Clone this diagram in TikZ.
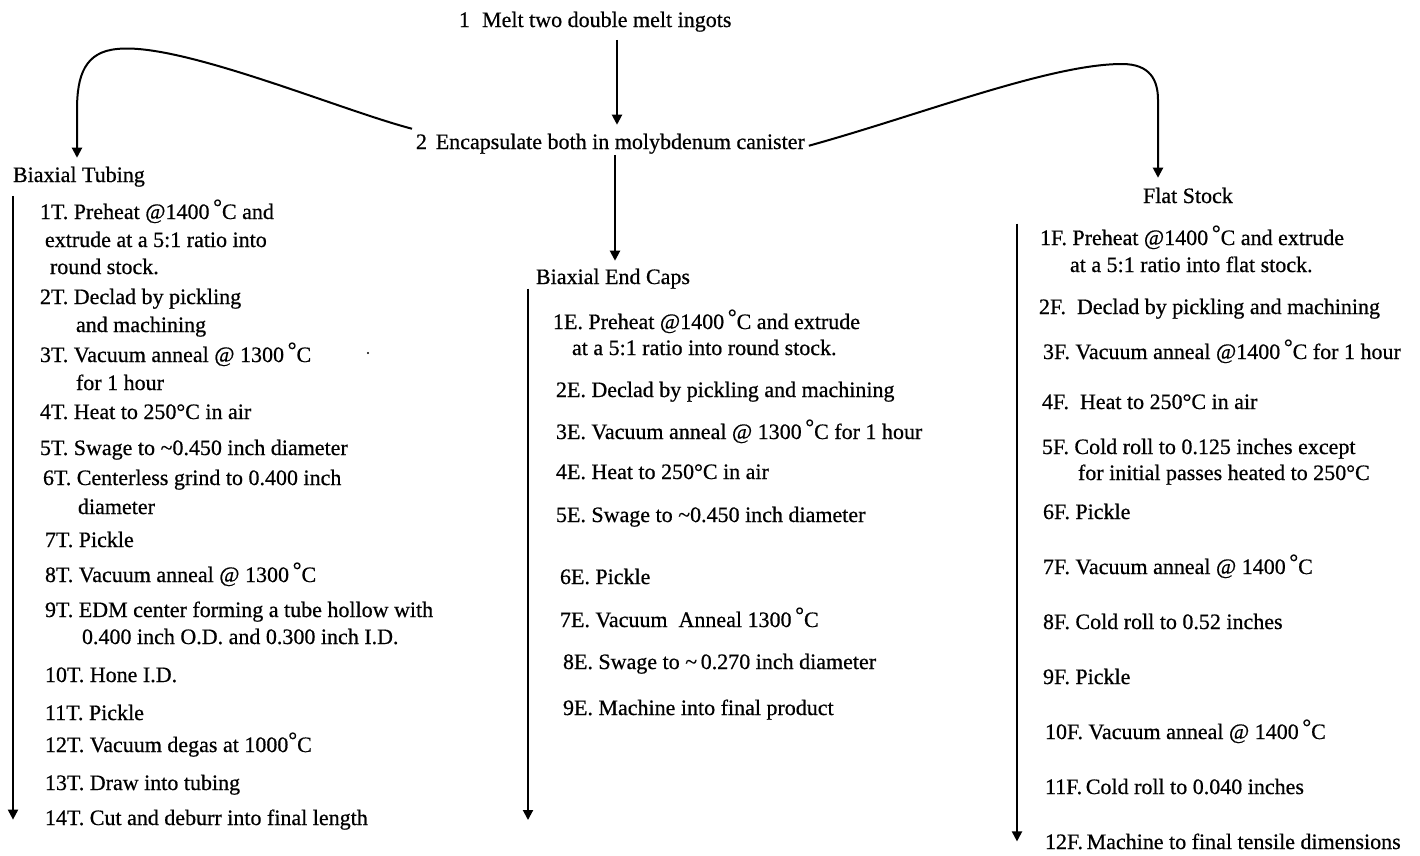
\documentclass[tikz,border=0pt]{standalone}
\usepackage{fontspec}
\setmainfont{Liberation Serif}[FakeBold=0.6]
\usetikzlibrary{arrows.meta}
\newcommand{\updeg}{\raisebox{0.22em}{°}}
\begin{document}
\begin{tikzpicture}[x=1pt,y=-1pt,
  txt/.style={anchor=base west,inner sep=0pt,outer sep=0pt,font=\fontsize{22}{27}\selectfont},
  conn/.style={line width=2pt,-{Triangle[length=10pt,width=10pt]}}
]
\useasboundingbox (0,0) rectangle (1420,855);
\fill[white] (0,0) rectangle (1420,855);

% x positions of the connectors
\coordinate (xA) at (617,0);
\coordinate (xB) at (615,0);
\coordinate (xL) at (77,0);
\coordinate (xR) at (1158,0);
\coordinate (xT) at (13,0);
\coordinate (xE) at (528,0);
\coordinate (xF) at (1017,0);
\coordinate (eEnd) at (528,820);

% top
\node[txt] (melt) at (459,27) {1\hspace{0.55em}Melt two double melt ingots};
\node[txt] (encap) at (416,149) {2\hspace{0.4em}Encapsulate both in molybdenum canister};

% headers
\node[txt] (tubH) at (13,182) {Biaxial Tubing};
\node[txt] (ecH) at (536,284) {Biaxial End Caps};
\node[txt] (flH) at (1143,203) {Flat Stock};

% Biaxial tubing column
\node[txt] (t1) at (40,219) {1T.\ Preheat @1400\,\updeg C and};
\node[txt] (t1b) at (45,247) {extrude at a 5:1 ratio into};
\node[txt] (t1c) at (50,274) {round stock.};
\node[txt] (t2) at (40,304) {2T.\ Declad by pickling};
\node[txt] (t2b) at (76,332) {and machining};
\node[txt] (t3) at (40,362) {3T.\ Vacuum anneal @ 1300\,\updeg C};
\node[txt] (t3b) at (76,390) {for 1 hour};
\node[txt] (t4) at (40,419) {4T.\ Heat to 250°C in air};
\node[txt] (t5) at (40,455) {5T.\ Swage to \textasciitilde0.450 inch diameter};
\node[txt] (t6) at (43,485) {6T.\ Centerless grind to 0.400 inch};
\node[txt] (t6b) at (78,514) {diameter};
\node[txt] (t7) at (45,547) {7T.\ Pickle};
\node[txt] (t8) at (45,582) {8T.\ Vacuum anneal @ 1300\,\updeg C};
\node[txt] (t9) at (45,617) {9T.\ EDM center forming a tube hollow with};
\node[txt] (t9b) at (82,644) {0.400 inch O.D. and 0.300 inch I.D.};
\node[txt] (t10) at (45,682) {10T.\ Hone I.D.};
\node[txt] (t11) at (45,720) {11T.\ Pickle};
\node[txt] (t12) at (45,752) {12T. Vacuum degas at 1000\updeg C};
\node[txt] (t13) at (45,790) {13T. Draw into tubing};
\node[txt] (t14) at (45,825) {14T. Cut and deburr into final length};
\fill (368,353) circle (1.2pt);

% Biaxial end caps column
\node[txt] (e1) at (553,329) {1E.\ Preheat @1400\,\updeg C and extrude};
\node[txt] (e1b) at (572,355) {at a 5:1 ratio into round stock.};
\node[txt] (e2) at (556,397) {2E.\ Declad by pickling and machining};
\node[txt] (e3) at (556,439) {3E.\ Vacuum anneal @ 1300\,\updeg C for 1 hour};
\node[txt] (e4) at (556,479) {4E.\ Heat to 250°C in air};
\node[txt] (e5) at (556,522) {5E.\ Swage to \textasciitilde0.450 inch diameter};
\node[txt] (e6) at (560,584) {6E.\ Pickle};
\node[txt] (e7) at (560,627) {7E. Vacuum\ \ Anneal 1300\,\updeg C};
\node[txt] (e8) at (563,669) {8E. Swage to \textasciitilde\,0.270 inch diameter};
\node[txt] (e9) at (563,715) {9E. Machine into final product};

% Flat stock column
\node[txt] (f1) at (1040,245) {1F. Preheat @1400\,\updeg C and extrude};
\node[txt] (f1b) at (1070,272) {at a 5:1 ratio into flat stock.};
\node[txt] (f2) at (1039,314) {2F.\ \ Declad by pickling and machining};
\node[txt] (f3) at (1043,359) {3F. Vacuum anneal @1400\,\updeg C for 1 hour};
\node[txt] (f4) at (1042,409) {4F.\ \ Heat to 250°C in air};
\node[txt] (f5) at (1042,454) {5F. Cold roll to 0.125 inches except};
\node[txt] (f5b) at (1078,480) {for initial passes heated to 250°C};
\node[txt] (f6) at (1043,519) {6F. Pickle};
\node[txt] (f7) at (1043,574) {7F. Vacuum anneal @ 1400\,\updeg C};
\node[txt] (f8) at (1043,629) {8F. Cold roll to 0.52 inches};
\node[txt] (f9) at (1043,684) {9F. Pickle};
\node[txt] (f10) at (1045,739) {10F.\ Vacuum anneal @ 1400\,\updeg C};
\node[txt] (f11) at (1045,794) {11F.\,Cold roll to 0.040 inches};
\node[txt] (f12) at (1045,849) {12F.\,Machine to final tensile dimensions};

% connectors
\draw[conn,shorten <=8pt,shorten >=9pt] (melt.south -| xA) -- (encap.north -| xA);
\draw[conn,shorten <=1pt,shorten >=8pt] (encap.south -| xB) -- (ecH.north -| xB);
\draw[conn,shorten >=9pt] ([xshift=-4pt,yshift=5pt]encap.north west)
   .. controls (340,110) and (180,42) .. (117,49)
   .. controls (85,52) and (77,75) .. (77,110) -- (tubH.north -| xL);
\draw[conn,shorten >=10pt] ([xshift=4pt,yshift=-2pt]encap.east)
   .. controls (920,115) and (1050,64) .. (1122,64)
   .. controls (1150,64) and (1158,80) .. (1158,100) -- (flH.north -| xR);
\draw[conn,shorten <=9pt] (tubH.south -| xT) -- (t14.west -| xT);
\draw[conn] (ecH.south -| xE) -- (eEnd);
\draw[conn,shorten <=-2pt] (f1.north -| xF) -- (f12.west -| xF);
\end{tikzpicture}
\end{document}
